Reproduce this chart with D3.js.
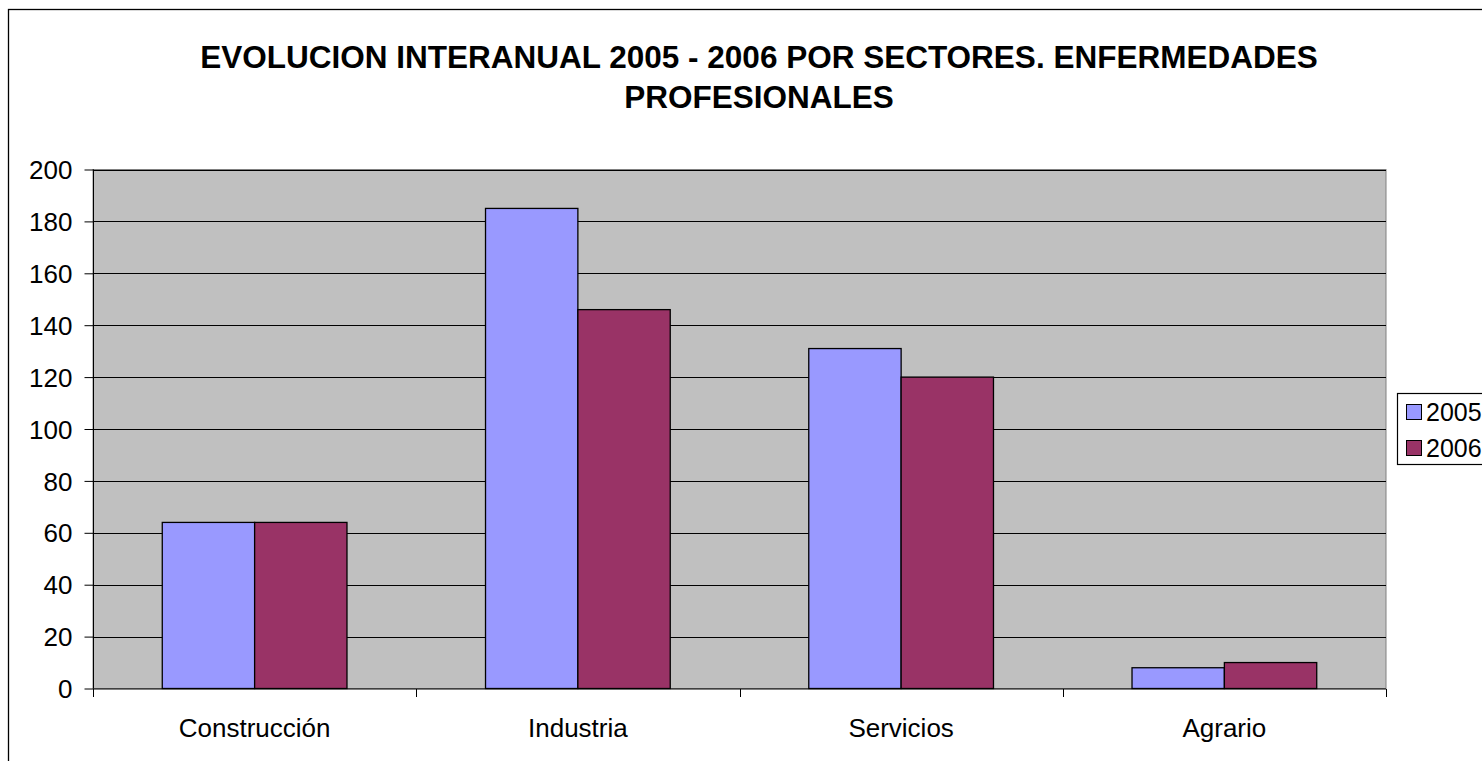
<!DOCTYPE html>
<html><head><meta charset="utf-8">
<script src="https://cdn.jsdelivr.net/npm/d3@7"></script>
<style>html,body{margin:0;padding:0;background:#fff;overflow:hidden}svg{display:block}text{font-family:"Liberation Sans",Arial,sans-serif}</style>
</head><body>
<script>
const categories = ["Construcción","Industria","Servicios","Agrario"];
const seriesNames = ["2005","2006"];
const values2005 = [64,185,131,8];
const values2006 = [64,146,120,10];
const yTicks = [0,20,40,60,80,100,120,140,160,180,200];
const titleLines = ["EVOLUCION INTERANUAL 2005 - 2006 POR SECTORES. ENFERMEDADES","PROFESIONALES"];
const colors = ["#9999FF","#993366"];

const W=1482,H=761;
const svg=d3.select("body").append("svg").attr("width",W).attr("height",H);
// outer frame
svg.append("rect").attr("x",8.5).attr("y",9.5).attr("width",1520).attr("height",800).attr("fill","#fff").attr("stroke","#000").attr("stroke-width",1.3);

const L=93,R=1386,T=169.5,B=688.5;
const x=d3.scaleBand().domain(categories).range([L,R]).paddingInner(0).paddingOuter(0);
const y=d3.scaleLinear().domain([0,200]).range([B,T]);
const inner=d3.scaleBand().domain(seriesNames).range([0,x.bandwidth()]).paddingOuter(0.75).paddingInner(0);

svg.append("rect").attr("x",L).attr("y",T).attr("width",R-L).attr("height",B-T).attr("fill","#C0C0C0").attr("stroke","#808080");

// gridlines
svg.append("g").selectAll("line").data(yTicks.filter(d=>d>0)).join("line")
 .attr("x1",L).attr("x2",R).attr("y1",d=>Math.round(y(d))+0.5).attr("y2",d=>Math.round(y(d))+0.5).attr("stroke","#000");

const data=categories.map((c,i)=>({c,vals:[values2005[i],values2006[i]]}));
const g=svg.append("g");
data.forEach(d=>{
  d.vals.forEach((v,j)=>{
    g.append("rect").attr("x",x(d.c)+inner(seriesNames[j])).attr("y",y(v)).attr("width",inner.bandwidth()).attr("height",B-y(v))
     .attr("fill",colors[j]).attr("stroke","#000").attr("stroke-width",1.3);
  });
});

// y axis
const ya=svg.append("g").attr("transform",`translate(${L+0.5},0)`).call(d3.axisLeft(y).tickValues(yTicks).tickSize(9).tickPadding(12));
ya.select(".domain").attr("d",`M0,${T}V${B}`).attr("stroke","#000");
ya.selectAll("text").attr("font-size",26).attr("fill","#000").attr("dy","0.35em").attr("font-family","Liberation Sans, Arial, sans-serif");
ya.selectAll("line").attr("stroke","#000");

// x axis
const xa=svg.append("g").attr("transform",`translate(0,${B+0.5})`);
xa.append("line").attr("x1",L).attr("x2",R).attr("stroke","#000");
const bounds=[...categories.map(c=>x(c)),R];
xa.selectAll("line.t").data(bounds).join("line").attr("class","t").attr("x1",d=>Math.round(d)+0.5).attr("x2",d=>Math.round(d)+0.5).attr("y1",0).attr("y2",8).attr("stroke","#000");
xa.selectAll("text").data(categories).join("text").attr("x",d=>x(d)+x.bandwidth()/2).attr("y",48).attr("text-anchor","middle").attr("font-size",26).attr("fill","#000").text(d=>d);

// title
svg.append("g").selectAll("text").data(titleLines).join("text").attr("x",759).attr("y",(d,i)=>68+i*40).attr("text-anchor","middle")
 .attr("font-size",31.5).attr("font-weight","bold").attr("fill","#000").text(d=>d);

// legend
const lg=svg.append("g").attr("transform","translate(1397,393)");
lg.append("rect").attr("x",0.5).attr("y",0.5).attr("width",130).attr("height",71).attr("fill","#fff").attr("stroke","#000").attr("stroke-width",1.2);
seriesNames.forEach((s,i)=>{
  lg.append("rect").attr("x",9.5).attr("y",11.5+i*36).attr("width",15).attr("height",15).attr("fill",colors[i]).attr("stroke","#000");
  lg.append("text").attr("x",29).attr("y",28+i*36).attr("font-size",25).attr("fill","#000").text(s);
});
</script>
</body></html>
